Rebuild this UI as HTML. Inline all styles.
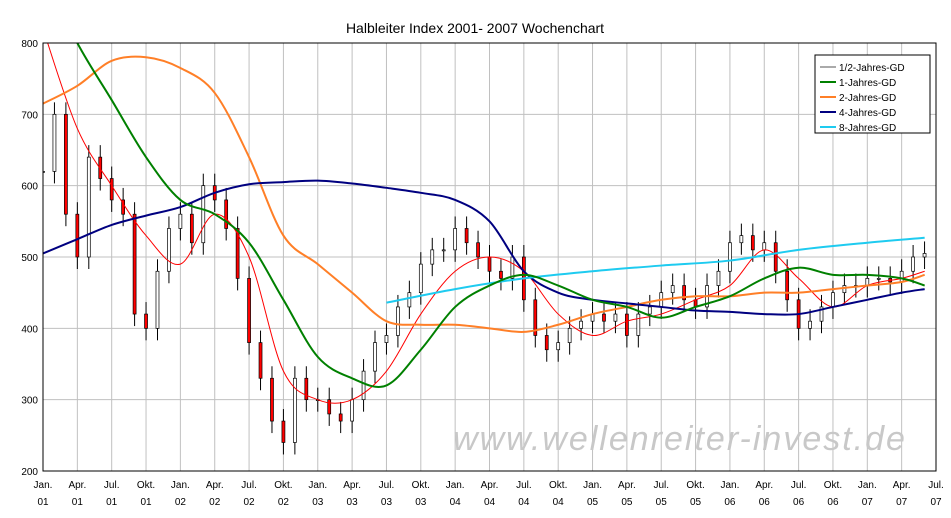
<!DOCTYPE html>
<html><head><meta charset="utf-8"><style>
body{margin:0;background:#fff;font-family:"Liberation Sans",sans-serif}
svg{display:block}
</style></head><body>
<svg id="c" width="951" height="518">
<text x="475" y="33" text-anchor="middle" font-size="14">Halbleiter Index 2001- 2007 Wochenchart</text>
<g id="grid"></g><g id="marks"></g>
<text x="680" y="450" text-anchor="middle" font-size="34" font-style="italic" fill="#c8c8c8" letter-spacing="2">www.wellenreiter-invest.de</text>
<g id="axes"></g>
<g>
<rect x="815" y="55" width="115" height="78" fill="#fff" stroke="#000"/>
<g id="leg"></g>
</g>
</svg>
<script>
const quarterLabels=["Jan.","Apr.","Jul.","Okt."];
const yTicks=[200,300,400,500,600,700,800];
const closes=[620,700,560,500,640,610,580,560,420,400,480,540,560,520,600,580,540,470,380,330,270,240,330,300,300,280,270,300,340,380,390,430,450,490,510,510,540,520,500,480,470,500,440,390,370,380,400,410,420,410,420,390,420,430,450,460,440,430,460,480,520,530,510,520,480,440,400,410,430,450,460,460,470,470,465,480,500,505];
const red=[820,680,600,530,490,560,500,340,300,300,340,420,480,500,480,420,390,410,420,440,460,510,470,430,460,470,480];
const green=[900,800,720,640,580,560,520,440,360,330,320,370,430,460,475,460,440,430,415,430,445,470,485,475,475,470,460];
const orange=[715,740,775,780,765,730,640,530,490,450,410,405,405,400,395,405,420,430,440,445,445,450,450,455,460,465,475];
const navy=[505,525,545,558,570,590,602,605,607,603,597,590,580,550,480,450,440,435,430,425,423,420,420,430,440,450,455];
const cyanQ=[10,12,14,16,18,20,22,24,25.67];
const cyan=[436,455,470,480,488,495,510,520,527];
const qEnd=[0,1,2,3,4,5,6,7,8,9,10,11,12,13,14,15,16,17,18,19,20,21,22,23,24,25,25.67];
const X0=43,X1=936,Y0=471,Y1=43;
const xq=q=>X0+q*(X1-X0)/26;
const y=v=>Y0-(v-200)*(Y0-Y1)/600;
const NS="http://www.w3.org/2000/svg";
function mk(t,a,p){const e=document.createElementNS(NS,t);for(const k in a)e.setAttribute(k,a[k]);p.appendChild(e);return e;}
const grid=document.getElementById('grid'),marks=document.getElementById('marks'),axes=document.getElementById('axes');
mk('rect',{x:X0,y:Y1,width:X1-X0,height:Y0-Y1,fill:'#fff'},grid);
for(let q=0;q<=26;q++){const l=mk('line',{x1:xq(q),x2:xq(q),y1:Y1,y2:Y0,stroke:'#c0c0c0'},grid);

const t=mk('text',{x:xq(q),y:488,'text-anchor':'middle','font-size':10},axes);t.textContent=quarterLabels[q%4];

const t2=mk('text',{x:xq(q),y:505,'text-anchor':'middle','font-size':10},axes);t2.textContent=String(1+Math.floor(q/4)).padStart(2,'0');
}
yTicks.forEach(v=>{const l=mk('line',{x1:X0,x2:X1,y1:y(v),y2:y(v),stroke:'#c0c0c0'},grid);

const t=mk('text',{x:38,y:y(v)+4,'text-anchor':'end','font-size':10},axes);t.textContent=v;
});
mk('rect',{x:X0,y:Y1,width:X1-X0,height:Y0-Y1,fill:'none',stroke:'#000'},axes);
const cp=mk('clipPath',{id:'cl'},marks);mk('rect',{x:X0,y:Y1,width:X1-X0,height:Y0-Y1},cp);
const g=mk('g',{'clip-path':'url(#cl)'},marks);
closes.forEach((c,i)=>{const o=i?closes[i-1]:c;const x=xq(i/3);
const hi=Math.max(o,c),lo=Math.min(o,c);
const w=mk('line',{x1:x,x2:x,y1:y(hi)-12,y2:y(lo)+12,stroke:'#000'},g);

const r=mk('rect',{x:x-1.5,y:y(hi),width:3,height:Math.max(1,y(lo)-y(hi)),fill:c>=o?'#fff':'#ff0000',stroke:'#000','stroke-width':0.7},g);
});
function line(qs,vs,col,w,name){const P=vs.map((v,i)=>[xq(qs[i]),y(v)]);
let d='M'+P[0][0]+','+P[0][1];
for(let i=0;i<P.length-1;i++){const p0=P[i-1]||P[i],p1=P[i],p2=P[i+1],p3=P[i+2]||p2;
const c1=[p1[0]+(p2[0]-p0[0])/6,p1[1]+(p2[1]-p0[1])/6],c2=[p2[0]-(p3[0]-p1[0])/6,p2[1]-(p3[1]-p1[1])/6];
d+=' C'+c1+' '+c2+' '+p2;}
const p=mk('path',{d:d,fill:'none',stroke:col,'stroke-width':w},g);
}
line(qEnd,red,'#ff0000',1,'half-year-ma-line');
line(qEnd,orange,'#ff7f27',2,'two-year-ma-line');
line(qEnd,navy,'#000080',2,'four-year-ma-line');
line(cyanQ,cyan,'#1ecbf0',2,'eight-year-ma-line');
line(qEnd,green,'#008000',2,'one-year-ma-line');
const leg=document.getElementById('leg');
[['1/2-Jahres-GD','#555',1],['1-Jahres-GD','#008000',2],['2-Jahres-GD','#ff7f27',2],['4-Jahres-GD','#000080',2],['8-Jahres-GD','#1ecbf0',2]].forEach((e,i)=>{
const yy=67+i*15;const l=mk('line',{x1:820,x2:836,y1:yy,y2:yy,stroke:e[1],'stroke-width':e[2]},leg);

const t=mk('text',{x:839,y:yy+4,'font-size':10},leg);t.textContent=e[0];
});
</script>
</body></html>
